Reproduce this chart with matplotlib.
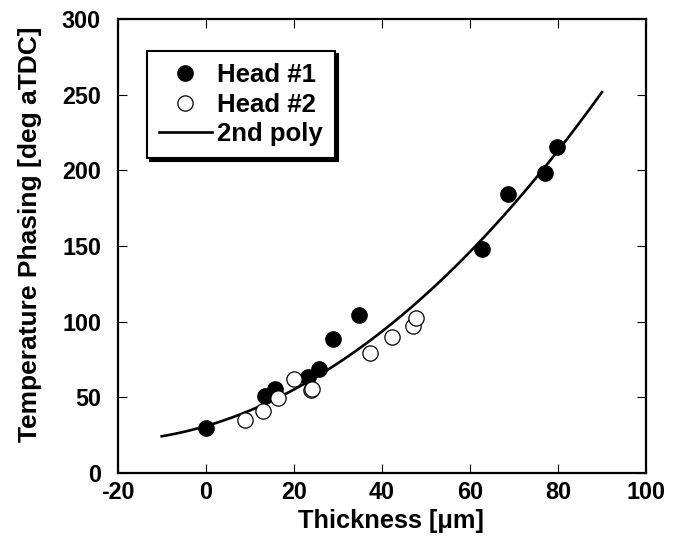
import numpy as np
import matplotlib.pyplot as plt

plt.rcParams['font.family'] = ['Liberation Sans', 'DejaVu Sans']
plt.rcParams['font.weight'] = 'bold'
plt.rcParams['axes.unicode_minus'] = False

# Head #1 (filled)
h1_x = [0, 13.5, 15.8, 23.3, 25.8, 29.0, 34.8, 62.7, 68.6, 77.1, 79.9]
h1_y = [29.5, 50.9, 55.3, 63.7, 68.5, 88.5, 104.4, 148, 184.4, 198.5, 215.6]

# Head #2 (open)
h2_x = [8.9, 12.9, 16.5, 20.1, 23.9, 24.1, 37.3, 42.3, 47.0, 47.8]
h2_y = [35.0, 41.2, 49.4, 62.1, 54.8, 55.6, 79.5, 89.7, 97.4, 102.2]

# 2nd order poly fit: c2*x^2 + c1*x + c0
poly_coef = [0.0178, 0.85, 31.0]
fit_range = [-10, 90]

fig = plt.figure(figsize=(6.86, 5.39), dpi=100)
ax = fig.add_axes([0.1716, 0.1224, 0.77, 0.8423])

xf = np.linspace(fit_range[0], fit_range[1], 200)
ax.plot(xf, np.polyval(poly_coef, xf), color='black', lw=1.9, label='2nd poly', zorder=2)
ax.plot(h1_x, h1_y, 'o', color='black', ms=11, label='Head #1', zorder=3)
ax.plot(h2_x, h2_y, 'o', mfc='white', mec='black', mew=0.9, ms=11, label='Head #2', zorder=3)

ax.set_xlim(-20, 100)
ax.set_ylim(0, 300)
ax.set_xticks(np.arange(-20, 101, 20))
ax.set_yticks(np.arange(0, 301, 50))
ax.tick_params(direction='in', length=6.5, width=0.8, top=True, right=True, labelsize=16.8)
ax.tick_params(axis='x', pad=6)
ax.tick_params(axis='y', pad=12)
for s in ax.spines.values():
    s.set_linewidth(1.6)

ax.set_xlabel('Thickness [μm]', fontsize=18.3, fontweight='bold')
ax.set_ylabel('Temperature Phasing [deg aTDC]', fontsize=19, fontweight='bold')
ax.xaxis.set_label_coords(0.518, -0.080)
ax.yaxis.set_label_coords(-0.144, 0.526)

handles, labels = ax.get_legend_handles_labels()
order = [1, 2, 0]
leg = ax.legend([handles[i] for i in order], [labels[i] for i in order],
                loc='upper left', bbox_to_anchor=(0.0555, 0.93), borderaxespad=0,
                fontsize=18.5, fancybox=False, edgecolor='black', framealpha=1,
                handlelength=2.05, handletextpad=0.2, labelspacing=0.22, borderpad=0.47,
                shadow={'color': 'black', 'alpha': 1})
leg.get_frame().set_linewidth(1.5)
for t in leg.get_texts():
    t.set_fontweight('bold')

fig.savefig('out.png', dpi=100)
